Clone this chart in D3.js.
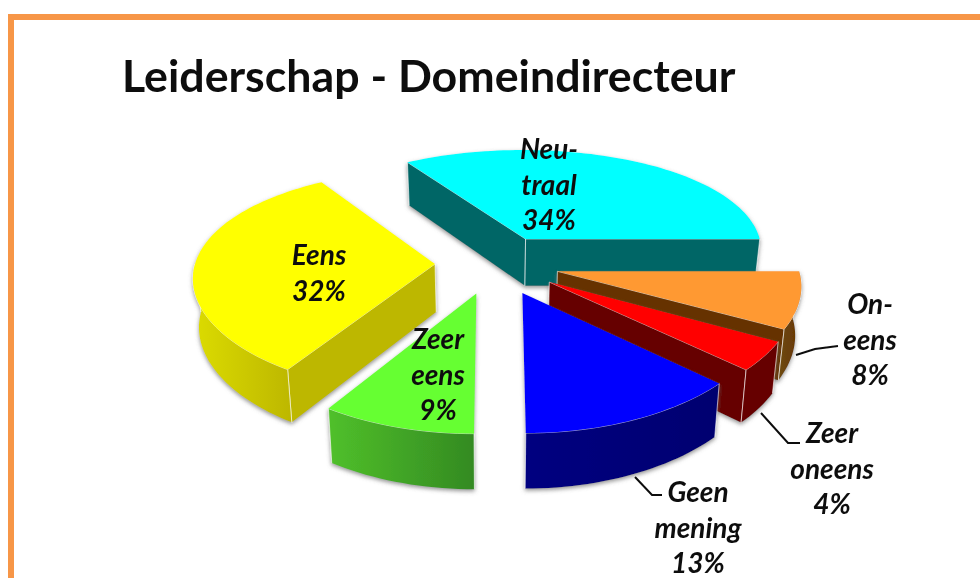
<!DOCTYPE html>
<html>
<head>
<meta charset="utf-8">
<script src="https://d3js.org/d3.v7.min.js"></script>
<style>
    html, body { margin: 0; padding: 0; background: #fff; }
    svg { display: block; }
    text { font-family: Lato, "Open Sans", sans-serif; fill: #111; }
</style>
</head>
<body>
<div id="chart"></div>
<script>
// values, clockwise from the back slice
const categories = ["Neutraal", "Oneens", "Zeer oneens", "Geen mening", "Zeer eens", "Eens"];
const values = [34, 8, 4, 13, 9, 32];
const labelLines = [["Neu-", "traal"], ["On-", "eens"], ["Zeer", "oneens"], ["Geen", "mening"], ["Zeer", "eens"], ["Eens"]];
const topColors = ["#00ffff", "#ff9933", "#ff0000", "#0000ff", "#66ff33", "#ffff00"];
const wallLight = ["#066666", "#6e4a12", "#660000", "#000080", "#50c02a", "#dcdc00"];
const wallDark = ["#066666", "#663300", "#660000", "#000070", "#338a22", "#bdb700"];

const width = 980, height = 578;

// perspective of the pie plane
const cx = 495, cy = 264, radius = 240;
const camera = 1600, tilt = 0.455, depth = 48, squeeze = 0.98;
const explodeBy = {
    "Neutraal": 65, "Oneens": 64, "Zeer oneens": 66,
    "Geen mening": 67, "Zeer eens": 65, "Eens": 60
};

// label centres (first baseline) and leader lines
const labelPos = {
    "Neutraal": [549, 159], "Oneens": [870, 314], "Zeer oneens": [832, 443],
    "Geen mening": [698, 502], "Zeer eens": [438, 349], "Eens": [319, 265]
};
const leaders = {
    "Oneens": [[796, 355], [815, 349], [838, 346]],
    "Zeer oneens": [[761, 413], [788, 443], [800, 443]],
    "Geen mening": [[635, 477], [652, 495], [662, 495]]
};

const svg = d3.select("#chart").append("svg")
    .attr("width", width)
    .attr("height", height);

const defs = svg.append("defs");
const shadow = defs.append("filter").attr("id", "shadow")
    .attr("x", "-10%").attr("y", "-10%").attr("width", "120%").attr("height", "120%");
shadow.append("feDropShadow")
    .attr("dx", 0).attr("dy", 2).attr("stdDeviation", 2)
    .attr("flood-color", "#666").attr("flood-opacity", 0.7);
// the source picture is a soft upscaled screenshot
defs.append("filter").attr("id", "soft")
    .attr("filterUnits", "userSpaceOnUse")
    .attr("x", 0).attr("y", 0).attr("width", width).attr("height", height)
    .append("feGaussianBlur").attr("stdDeviation", 0.6);

const root = svg.append("g").attr("filter", "url(#soft)");

// frame
root.append("path")
    .attr("d", "M11,578V17H980")
    .attr("fill", "none")
    .attr("stroke", "#f79646")
    .attr("stroke-width", 6);

root.append("text")
    .attr("x", 122)
    .attr("y", 92)
    .attr("font-size", 44.7)
    .attr("font-weight", 700)
    .text("Leiderschap - Domeindirecteur");

const topColor = d3.scaleOrdinal().domain(categories).range(topColors);
const lightColor = d3.scaleOrdinal().domain(categories).range(wallLight);
const darkColor = d3.scaleOrdinal().domain(categories).range(wallDark);

// back slice ends on the horizontal, 3 o'clock
const startAngle = Math.PI / 2 - 2 * Math.PI * values[0] / d3.sum(values);
const pie = d3.pie()
    .sort(null)
    .startAngle(startAngle)
    .endAngle(startAngle + 2 * Math.PI);

const slices = pie(values).map(function (d, i) {
    d.name = categories[i];
    d.mid = (d.startAngle + d.endAngle) / 2;
    d.explode = explodeBy[d.name];
    return d;
});
// painter's order, far slices first
slices.sort((a, b) => Math.cos(b.mid) - Math.cos(a.mid));

function project(t, r, d) {
    const u = d.explode * Math.sin(d.mid) + r * Math.sin(t);
    const w = d.explode * Math.cos(d.mid) + r * Math.cos(t);
    const s = camera / (camera + w);
    return {x: cx + u * Math.pow(s, 0.7), y: cy - tilt * w * s, s: s};
}

function lower(p) {
    return {x: cx + (p.x - cx) * squeeze, y: p.y + depth * Math.pow(p.s, 0.7)};
}

const line = d3.line().x(p => p.x).y(p => p.y);
const closed = d3.line().x(p => p.x).y(p => p.y).curve(d3.curveLinearClosed);

function arcPoints(a0, a1, d) {
    const n = Math.max(2, Math.ceil((a1 - a0) / 0.03));
    return d3.range(n + 1).map(i => project(a0 + (a1 - a0) * i / n, radius, d));
}

function addWall(g, upper, fill) {
    const under = upper.map(lower).reverse();
    g.append("path")
        .attr("d", closed(upper.concat(under)))
        .attr("fill", fill);
    g.append("path")
        .attr("d", line([lower(upper[0])].concat(upper, [lower(upper[upper.length - 1])])))
        .attr("fill", "none")
        .attr("stroke", "#fff")
        .attr("stroke-opacity", 0.6);
}

slices.forEach(function (d, i) {
    const g = root.append("g").attr("filter", "url(#shadow)");
    const apex = project(0, 0, d);
    const outer = arcPoints(d.startAngle, d.endAngle, d);

    const grad = defs.append("linearGradient").attr("id", "wall" + i);
    grad.append("stop").attr("offset", "0%").attr("stop-color", lightColor(d.name));
    grad.append("stop").attr("offset", "100%").attr("stop-color", darkColor(d.name));

    // flat walls, only those turned towards the viewer
    if (Math.sin(d.startAngle) < -0.01) {
        addWall(g, [apex, outer[0]], darkColor(d.name));
    }
    if (Math.sin(d.endAngle) > 0.01) {
        addWall(g, [apex, outer[outer.length - 1]], darkColor(d.name));
    }
    // curved wall, the part on the near half of the circle
    const a0 = Math.max(d.startAngle, Math.PI / 2);
    const a1 = Math.min(d.endAngle, 3 * Math.PI / 2);
    if (a1 > a0) {
        addWall(g, arcPoints(a0, a1, d), "url(#wall" + i + ")");
    }

    g.append("path")
        .attr("d", closed([apex].concat(outer)))
        .attr("fill", topColor(d.name));
});

const total = d3.sum(values);
const percent = v => Math.round(v / total * 100) + "%";

pie(values).forEach(function (d, i) {
    const name = categories[i];
    const lines = labelLines[i].concat(percent(d.value));
    const label = root.append("text")
        .attr("text-anchor", "middle")
        .attr("font-size", 28)
        .attr("font-weight", 700)
        .attr("font-style", "italic");
    lines.forEach(function (t, j) {
        label.append("tspan")
            .attr("x", labelPos[name][0])
            .attr("y", labelPos[name][1] + j * 35.5)
            .text(t);
    });
    if (leaders[name]) {
        root.append("path")
            .attr("d", d3.line()(leaders[name]))
            .attr("fill", "none")
            .attr("stroke", "#111")
            .attr("stroke-width", 2);
    }
});
</script>
</body>
</html>
